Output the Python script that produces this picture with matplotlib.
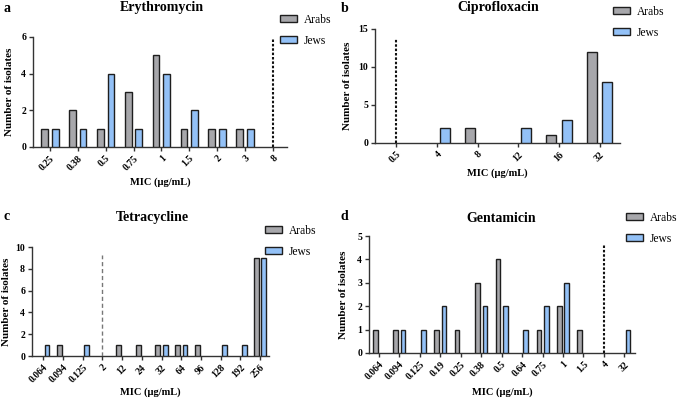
import matplotlib
matplotlib.use("Agg")
import matplotlib.pyplot as plt
from matplotlib.patches import Patch

plt.rcParams['font.family'] = ['Liberation Serif', 'DejaVu Serif']
plt.rcParams['font.weight'] = 'bold'

# ---- data ----
ery_mic = ["0.25", "0.38", "0.5", "0.75", "1", "1.5", "2", "3", "8"]
ery_arabs = [1, 2, 1, 3, 5, 1, 1, 1, 0]
ery_jews = [1, 1, 4, 1, 4, 2, 1, 1, 0]
ery_bp = "8"

cip_mic = ["0.5", "4", "8", "12", "16", "32"]
cip_arabs = [0, 0, 2, 0, 1, 12]
cip_jews = [0, 2, 0, 2, 3, 8]
cip_bp = "0.5"

tet_mic = ["0.064", "0.094", "0.125", "2", "12", "24", "32", "64", "96", "128", "192", "256"]
tet_arabs = [0, 1, 0, 0, 1, 1, 1, 1, 1, 0, 0, 9]
tet_jews = [1, 0, 1, 0, 0, 0, 1, 1, 0, 1, 1, 9]
tet_bp = "2"

gen_mic = ["0.064", "0.094", "0.125", "0.19", "0.25", "0.38", "0.5", "0.64", "0.75", "1", "1.5", "4", "32"]
gen_arabs = [1, 1, 0, 1, 1, 3, 4, 0, 1, 2, 1, 0, 0]
gen_jews = [0, 1, 1, 2, 0, 2, 2, 1, 2, 3, 0, 0, 1]
gen_bp = "4"

W, H = 677, 400
fig = plt.figure(figsize=(W / 100, H / 100), dpi=100)

GREY = "#a7a7ab"
BLUE = "#93c1f7"
EDGE = "#1e1e1e"


def fx(x):
    return x / W


def fy(y):
    return 1 - y / H


def panel(letter, title, cats, arabs, jews, bp, box, ylim, yticks, xlim,
          width, offset, bp_top, bp_style, title_xy, letter_xy, xlabel_y,
          ylabel_x, leg_xy, leg_space):
    x0, y0, x1, y1 = box
    ax = fig.add_axes([fx(x0), fy(y1), fx(x1) - fx(x0), fy(y0) - fy(y1)])
    idx = list(range(len(cats)))
    ax.bar([i - offset for i in idx], arabs, width=width, color=GREY,
           edgecolor=EDGE, linewidth=[1.0 if v > 0 else 0 for v in arabs],
           label="Arabs", zorder=3)
    ax.bar([i + offset for i in idx], jews, width=width, color=BLUE,
           edgecolor=EDGE, linewidth=[1.0 if v > 0 else 0 for v in jews],
           label="Jews", zorder=3)
    b = cats.index(bp)
    ax.plot([b, b], [0, bp_top], **bp_style, zorder=4)
    ax.set_xlim(*xlim)
    ax.set_ylim(*ylim)
    ax.set_yticks(yticks)
    ax.set_xticks(idx)
    ax.set_xticklabels(cats, rotation=45, ha='right', rotation_mode='anchor',
                       fontsize=7, fontweight='bold')
    for lab in ax.get_yticklabels():
        lab.set_fontsize(7)
        lab.set_fontweight('bold')
    ax.tick_params(axis='both', length=3, width=1.0, color="#333333", pad=2)
    for s in ('top', 'right'):
        ax.spines[s].set_visible(False)
    for s in ('left', 'bottom'):
        ax.spines[s].set_linewidth(1.0)
        ax.spines[s].set_color("#333333")
    fig.text(fx(title_xy[0]), fy(title_xy[1]), title, ha='center', va='center',
             fontsize=10, fontweight='bold')
    fig.text(fx(letter_xy[0]), fy(letter_xy[1]), letter, ha='left', va='center',
             fontsize=10, fontweight='bold')
    fig.text(fx((x0 + x1) / 2), fy(xlabel_y), "MIC (µg/mL)", ha='center',
             va='center', fontsize=7.5, fontweight='bold')
    fig.text(fx(ylabel_x), fy((y0 + y1) / 2), "Number of isolates", ha='center',
             va='center', rotation=90, fontsize=8, fontweight='bold')
    handles = [Patch(facecolor=GREY, edgecolor=EDGE, linewidth=1.0, label="Arabs"),
               Patch(facecolor=BLUE, edgecolor=EDGE, linewidth=1.0, label="Jews")]
    fig.legend(handles=handles, loc='upper left',
               bbox_to_anchor=(fx(leg_xy[0]), fy(leg_xy[1])),
               frameon=False, handlelength=1.5, handleheight=0.55,
               handletextpad=0.6, labelspacing=leg_space, borderpad=0,
               borderaxespad=0, prop={'weight': 'normal', 'size': 8.3})
    return ax


dotted = dict(color="#111111", linestyle=(0, (1.2, 0.9)), linewidth=1.5)
dashed_grey = dict(color="#777777", linestyle=(0, (3, 2)), linewidth=1.0)

panel("a", "Erythromycin", ery_mic, ery_arabs, ery_jews, ery_bp,
      (33, 37, 287, 147), (0, 6), [0, 2, 4, 6], (-0.61, 8.51),
      0.24, 0.19, 5.9, dotted, (162, 7), (3, 8), 182, 10, (280, 14), 0.75)

panel("b", "Ciprofloxacin", cip_mic, cip_arabs, cip_jews, cip_bp,
      (375, 29, 620, 143), (0, 15), [0, 5, 10, 15], (-0.52, 5.5),
      0.245, 0.19, 13.8, dotted, (498, 7), (341, 8), 173, 347, (613, 6), 0.75)

panel("c", "Tetracycline", tet_mic, tet_arabs, tet_jews, tet_bp,
      (32, 247, 269, 356), (0, 10), [0, 2, 4, 6, 8, 10], (-0.57, 11.45),
      0.25, 0.19, 9.3, dashed_grey, (152, 217), (3, 217), 392, 7, (265, 225), 0.75)

panel("d", "Gentamicin", gen_mic, gen_arabs, gen_jews, gen_bp,
      (369, 236, 635, 353), (0, 5), [0, 1, 2, 3, 4, 5], (-0.49, 12.52),
      0.23, 0.18, 4.6, dotted, (501, 218), (340, 217), 392, 343, (626, 212), 0.75)

fig.savefig("out.png", dpi=100)
